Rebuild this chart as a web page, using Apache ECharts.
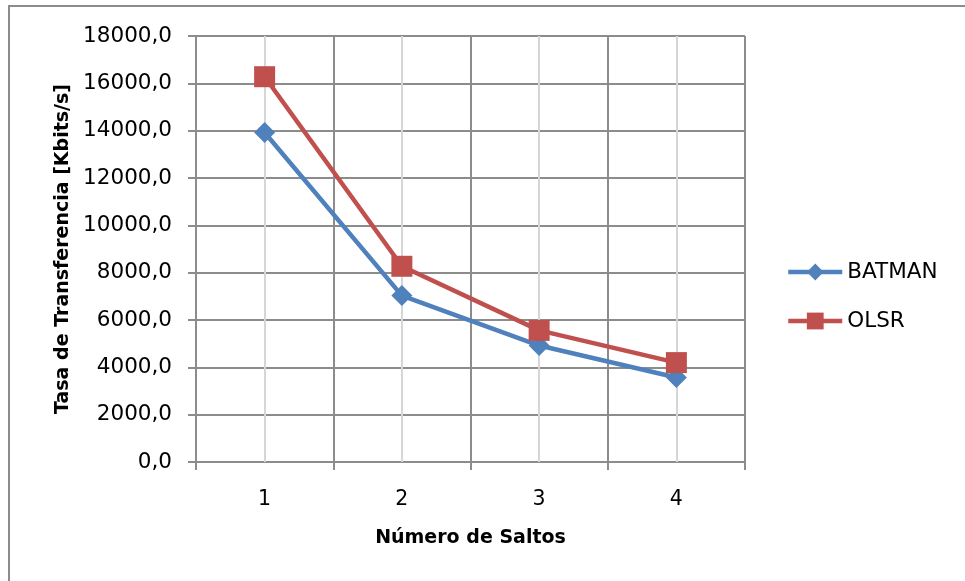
<!DOCTYPE html>
<html>
<head>
<meta charset="utf-8">
<script src="https://cdn.jsdelivr.net/npm/echarts@6/dist/echarts.min.js"></script>
<style>
  html, body { margin: 0; padding: 0; background: #ffffff; }
  #chart { width: 965px; height: 581px; }
</style>
</head>
<body>
<div id="chart"></div>
<script>
// Throughput by hop count for the two routing protocols
const hops = ['1', '2', '3', '4'];
const batman = [13920, 7030, 4920, 3570];
const olsr = [16280, 8270, 5560, 4200];
const yTicks = { min: 0, max: 18000, step: 2000 };

const FONT = 'DejaVu Sans';
const GRID_GRAY = '#8c8c8c';
const LIGHT_GRAY = '#d6d6d6';
const BLUE = '#4F81BD';
const RED = '#C0504D';

const chart = echarts.init(document.getElementById('chart'));

chart.setOption({
  backgroundColor: '#ffffff',
  animation: false,
  graphic: [
    {
      // chart frame: top edge
      type: 'line',
      shape: { x1: 8, y1: 6, x2: 965, y2: 6 },
      style: { stroke: GRID_GRAY, lineWidth: 2 },
      silent: true
    },
    {
      // chart frame: left edge
      type: 'line',
      shape: { x1: 9, y1: 5, x2: 9, y2: 581 },
      style: { stroke: GRID_GRAY, lineWidth: 2 },
      silent: true
    }
  ],
  grid: { left: 196, top: 36, width: 549, height: 426, containLabel: false },
  legend: {
    orient: 'vertical',
    left: 786,
    top: 261,
    padding: 0,
    itemWidth: 54,
    itemHeight: 21,
    itemGap: 27,
    data: ['BATMAN', 'OLSR'],
    lineStyle: { width: 4.5 },
    textStyle: { fontFamily: FONT, fontSize: 21.5, color: '#000000' }
  },
  xAxis: {
    type: 'category',
    data: hops,
    boundaryGap: true,
    name: 'Número de Saltos',
    nameLocation: 'middle',
    nameGap: 67,
    nameTextStyle: { fontFamily: FONT, fontSize: 19, fontWeight: 'bold', color: '#000000' },
    axisLine: { lineStyle: { color: GRID_GRAY, width: 2 } },
    axisTick: { show: true, length: 8, lineStyle: { color: GRID_GRAY, width: 2 } },
    axisLabel: { margin: 27, fontFamily: FONT, fontSize: 20.5, color: '#000000' },
    splitLine: { show: true, lineStyle: { color: GRID_GRAY, width: 2 } }
  },
  yAxis: {
    type: 'value',
    min: yTicks.min,
    max: yTicks.max,
    interval: yTicks.step,
    name: 'Tasa de Transferencia [Kbits/s]',
    nameLocation: 'middle',
    nameGap: 123,
    nameTextStyle: { fontFamily: FONT, fontSize: 19, fontWeight: 'bold', color: '#000000' },
    axisLine: { show: true, lineStyle: { color: GRID_GRAY, width: 2 } },
    axisTick: { show: true, length: 8, lineStyle: { color: GRID_GRAY, width: 2 } },
    axisLabel: {
      margin: 24,
      fontFamily: FONT,
      fontSize: 21.5,
      color: '#000000',
      formatter: v => v.toFixed(1).replace('.', ',')
    },
    splitLine: { show: true, lineStyle: { color: GRID_GRAY, width: 2 } }
  },
  series: [
    {
      // light guide lines through each category centre
      name: 'guides',
      type: 'line',
      data: [],
      silent: true,
      markLine: {
        z: 1,
        silent: true,
        symbol: 'none',
        label: { show: false },
        lineStyle: { color: LIGHT_GRAY, width: 2, type: 'solid' },
        data: hops.map(h => ({ xAxis: h }))
      }
    },
    {
      name: 'BATMAN',
      type: 'line',
      data: batman,
      symbol: 'diamond',
      symbolSize: 21,
      lineStyle: { color: BLUE, width: 4.5 },
      itemStyle: { color: BLUE },
      z: 3
    },
    {
      name: 'OLSR',
      type: 'line',
      data: olsr,
      symbol: 'rect',
      symbolSize: 21,
      lineStyle: { color: RED, width: 4.5 },
      itemStyle: { color: RED },
      z: 4
    }
  ]
});
</script>
</body>
</html>
